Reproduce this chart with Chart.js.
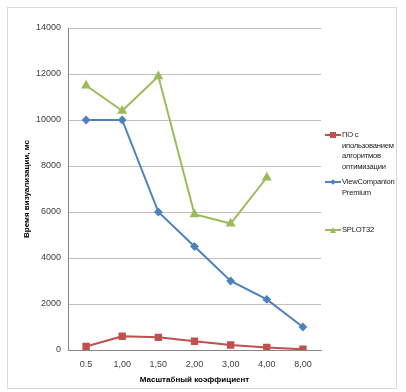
<!DOCTYPE html>
<html lang="ru">
<head>
  <meta charset="UTF-8">
  <title>Время визуализации</title>
  <script src="https://cdn.jsdelivr.net/npm/chart.js"></script>
  <style>
    body {
      margin: 0;
      background: #fff;
      font-family: 'Liberation Sans', Arial, sans-serif;
    }
    .wrap {
      position: relative;
      width: 406px;
      height: 392px;
    }
    .frame {
      position: absolute;
      left: 7px; top: 7px;
      width: 390px; height: 382px;
      border: 1px solid #d9d9d9;
      box-sizing: border-box;
    }
    canvas { position: absolute; left: 0; top: 0; }
    .legend {
      position: absolute;
      left: 325px;
      font-size: 7.6px;
      line-height: 10.5px;
      color: #1a1a1a;
    }
    .legend .item {
      position: absolute;
      white-space: nowrap;
    }
    .legend .sw {
      position: absolute;
      left: 0;
      width: 16px;
      height: 2px;
    }
    .legend .txt {
      position: absolute;
      left: 17px;
      top: -5px;
      letter-spacing: -0.2px;
    }
    .mk { position: absolute; }
  </style>
</head>
<body>
  <div class="wrap">
    <div class="frame"></div>
    <canvas id="chart" width="406" height="392"></canvas>
    <div class="legend" id="legend"></div>
  </div>

  <script>
    const categories = ["0.5", "1,00", "1,50", "2,00", "3,00", "4,00", "8,00"];
    const optimized = [150, 600, 550, 380, 220, 110, 30];
    const viewCompanion = [10000, 10000, 6000, 4500, 3000, 2200, 1000];
    const splot = [11500, 10400, 11900, 5900, 5500, 7500, null];

    const seriesNames = [
      ["ПО с", "ипользованием", "алгоритмов", "оптимизации"],
      ["ViewCompanion", "Premium"],
      ["SPLOT32"]
    ];
    const colors = ["#C0504D", "#4F81BD", "#9BBB59"];

    const ctx = document.getElementById("chart").getContext("2d");
    new Chart(ctx, {
      type: "line",
      data: {
        labels: categories,
        datasets: [
          { label: seriesNames[0].join(" "), data: optimized, borderColor: colors[0], backgroundColor: colors[0],
            pointStyle: "rect", pointRadius: 3.8, borderWidth: 2 },
          { label: seriesNames[1].join(" "), data: viewCompanion, borderColor: colors[1], backgroundColor: colors[1],
            pointStyle: "rectRot", pointRadius: 3, borderWidth: 2 },
          { label: seriesNames[2].join(" "), data: splot, borderColor: colors[2], backgroundColor: colors[2],
            pointStyle: "triangle", pointRadius: 3.8, borderWidth: 2 }
        ]
      },
      options: {
        responsive: false,
        animation: false,
        layout: { padding: { left: 22, right: 85, top: 28, bottom: 3 } },
        plugins: { legend: { display: false }, tooltip: { enabled: false } },
        elements: { line: { tension: 0 } },
        scales: {
          x: {
            offset: true,
            grid: { display: false, drawTicks: false },
            border: { color: "#868686", width: 1 },
            ticks: { color: "#404040", font: { family: "Liberation Sans", size: 9 }, padding: 9, maxRotation: 0 },
            title: { display: true, text: "Масштабный коэффициент", color: "#000",
                     font: { family: "Liberation Sans", size: 8, weight: "bold" }, padding: { top: 6 } },
            afterFit: s => { s.height = 39; }
          },
          y: {
            min: 0, max: 14000,
            ticks: { stepSize: 2000, color: "#404040", font: { family: "Liberation Sans", size: 9 }, padding: 7,
                     callback: v => String(v) },
            grid: { color: "#c0c0c0", drawTicks: false },
            border: { color: "#868686", width: 1 },
            title: { display: true, text: "Время визуализации, мс", color: "#000",
                     font: { family: "Liberation Sans", size: 8, weight: "bold" }, padding: 0 },
            afterFit: s => { s.width = 46; }
          }
        }
      }
    });

    // легенда справа, многострочная
    const legendTops = [135, 182, 230];
    const legend = document.getElementById("legend");
    seriesNames.forEach((lines, i) => {
      const item = document.createElement("div");
      item.className = "item";
      item.style.top = legendTops[i] + "px";
      let mk = "";
      if (i === 0) mk = `<span class="mk" style="left:5px;top:-3px;width:6px;height:6px;background:${colors[0]}"></span>`;
      if (i === 1) mk = `<span class="mk" style="left:5.5px;top:-2px;width:4px;height:4px;background:${colors[1]};transform:rotate(45deg)"></span>`;
      if (i === 2) mk = `<span class="mk" style="left:4.5px;top:-3.5px;width:0;height:0;border-left:3.5px solid transparent;border-right:3.5px solid transparent;border-bottom:6px solid ${colors[2]}"></span>`;
      item.innerHTML = `<span class="sw" style="top:-1px;background:${colors[i]}"></span>${mk}<span class="txt">${lines.join("<br>")}</span>`;
      legend.appendChild(item);
    });
  </script>
</body>
</html>
